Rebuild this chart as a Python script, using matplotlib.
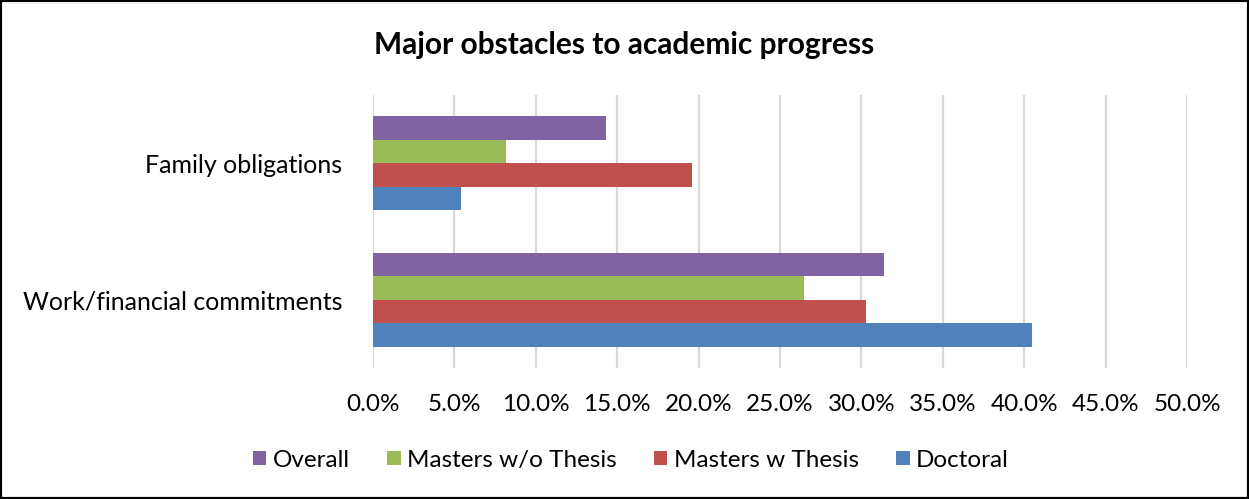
import matplotlib.pyplot as plt
import numpy as np
from matplotlib.patches import Rectangle

plt.rcParams['font.family'] = ['Lato', 'DejaVu Sans']

categories = ['Work/financial commitments', 'Family obligations']
series = ['Doctoral', 'Masters w Thesis', 'Masters w/o Thesis', 'Overall']
doctoral = [40.5, 5.4]
masters_thesis = [30.3, 19.6]
masters_no_thesis = [26.5, 8.2]
overall = [31.4, 14.3]
colors = ['#4F81BD', '#C0504D', '#9BBB59', '#8064A2']
values = [doctoral, masters_thesis, masters_no_thesis, overall]

fig = plt.figure(figsize=(12.49, 4.99), dpi=100)
ax = fig.add_axes([0.2986, 0.2625, 0.6518, 0.5471])

y = np.arange(len(categories))
h = 0.69 / 4
bars = []
for i, (name, vals, c) in enumerate(zip(series, values, colors)):
    b = ax.barh(y + (i - 1.5) * h, vals, height=h, color=c, label=name, zorder=3)
    bars.append(b)

ax.set_xlim(0, 50)
ax.set_ylim(-0.5, 1.5)
ax.set_xticks(np.arange(0, 51, 5))
ax.set_xticklabels(['%.1f%%' % t for t in np.arange(0, 51, 5)], fontsize=17.5)
ax.set_yticks(y)
ax.set_yticklabels(categories, fontsize=18)
ax.tick_params(length=0, pad=22, axis='y')
ax.tick_params(length=0, pad=19, axis='x')
ax.grid(axis='x', color='#d9d9d9', linewidth=1.6, zorder=0)
for s in ax.spines.values():
    s.set_visible(False)

fig.text(0.5, 0.91, 'Major obstacles to academic progress', ha='center', va='center',
         fontsize=21.5, fontweight='bold')

fig.legend(handles=bars[::-1], labels=series[::-1], loc='center', bbox_to_anchor=(0.505, 0.078),
           ncol=4, frameon=False, fontsize=17.5, handlelength=0.55, handleheight=0.55,
           columnspacing=1.55, handletextpad=0.25)

fig.patches.append(Rectangle((0, 0), 1, 1, transform=fig.transFigure, fill=False,
                             edgecolor='black', linewidth=3, zorder=10))

fig.savefig('out.png', dpi=100)
